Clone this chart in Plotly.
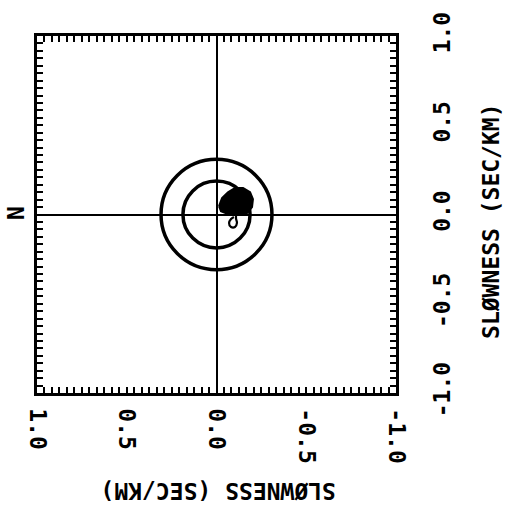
import plotly.graph_objects as go

# Data (slowness, sec/km)
axis_ticks = [-1.0, -0.5, 0.0, 0.5, 1.0]
axis_ticktext = ["-1.0", "-0.5", "0.0", "0.5", "1.0"]
circle_radii = [0.309, 0.187]

# Dense contour peak (filled blob)
blob_sx = [-0.014, -0.031, -0.064, -0.103, -0.148, -0.187, -0.203, -0.198, -0.170, -0.120, -0.064, -0.025, -0.014]
blob_sy = [0.047, 0.092, 0.125, 0.148, 0.148, 0.125, 0.086, 0.042, 0.008, -0.003, 0.003, 0.019, 0.047]

# Small drop-shaped contour below the peak
drop_sx = [-0.109, -0.109, -0.114, -0.103, -0.081, -0.070, -0.081, -0.097]
drop_sy = [0.003, -0.025, -0.047, -0.070, -0.070, -0.047, -0.025, -0.014]

FONT = "DejaVu Sans Mono"
fig = go.Figure()

fig.add_trace(go.Scatter(x=blob_sx, y=blob_sy, mode="lines", fill="toself",
                         fillcolor="black", line=dict(color="black", width=2),
                         hoverinfo="skip", showlegend=False))
fig.add_trace(go.Scatter(x=drop_sx, y=drop_sy, mode="lines",
                         line=dict(color="black", width=2.2, shape="spline"),
                         hoverinfo="skip", showlegend=False))

for r in circle_radii:
    fig.add_shape(type="circle", xref="x", yref="y", x0=-r, x1=r, y0=-r, y1=r,
                  line=dict(color="black", width=3.5))

axis_common = dict(
    tickvals=axis_ticks, ticktext=axis_ticktext,
    ticks="inside", ticklen=6, tickwidth=1.5, tickcolor="black",
    minor=dict(dtick=1/24, tick0=0, ticks="inside", ticklen=6, tickwidth=1.5, tickcolor="black"),
    showline=True, linewidth=2.5, linecolor="black", mirror="ticks",
    showgrid=False, zeroline=True, zerolinecolor="black", zerolinewidth=1.5,
    tickfont=dict(family=FONT, size=23, color="black", weight="bold"),
)

fig.update_xaxes(range=[1, -1], tickangle=90, ticklabelstandoff=8, **axis_common)
fig.update_yaxes(range=[-1, 1], side="right", tickangle=-90, ticklabelstandoff=24, **axis_common)

annots = [
    dict(text="SLØWNESS (SEC/KM)", x=1.2646, y=0.482, textangle=-90),
    dict(text="SLØWNESS (SEC/KM)", x=0.504, y=-0.273, textangle=180),
    dict(text="N", x=-0.0585, y=0.504, textangle=-90),
]
for a in annots:
    fig.add_annotation(xref="paper", yref="paper", showarrow=False,
                       xanchor="center", yanchor="middle",
                       font=dict(family=FONT, size=23, color="black", weight="bold"), **a)

fig.update_layout(
    width=508, height=512,
    margin=dict(l=37, r=112, t=34, b=119),
    paper_bgcolor="white", plot_bgcolor="white",
    showlegend=False,
)

fig.write_html("out.html")
